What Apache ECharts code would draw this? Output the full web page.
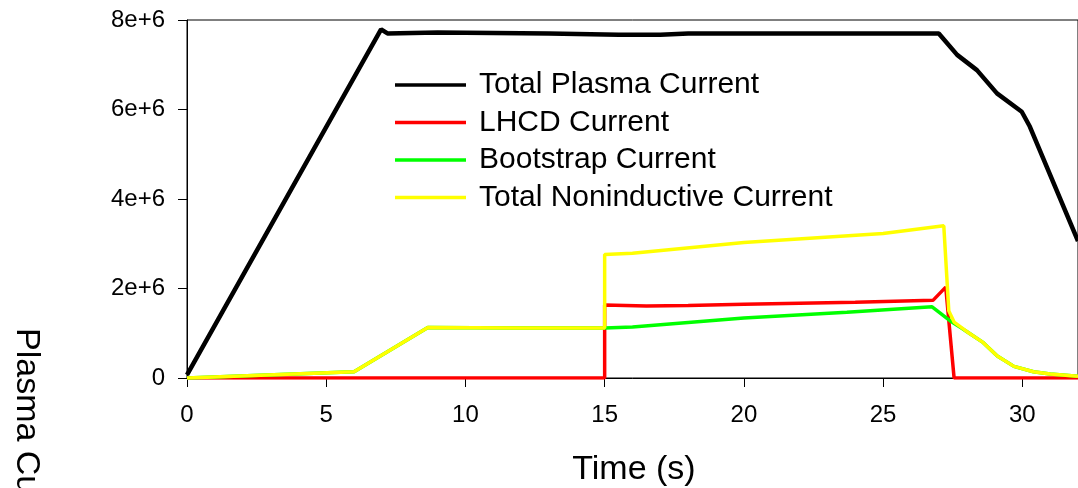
<!DOCTYPE html>
<html>
<head>
<meta charset="utf-8">
<script src="https://cdn.jsdelivr.net/npm/echarts@6/dist/echarts.min.js"></script>
<style>
  html, body { margin: 0; padding: 0; background: #fff; }
  #chart { width: 1078px; height: 488px; }
</style>
</head>
<body>
<div id="chart"></div>
<script>
// 数据：时间 (s) 与电流 (A)
var totalT = [0, 6.97, 7.2, 9, 13, 15.5, 17, 18, 27.0, 27.66, 28.37, 29.09, 29.98, 30.27, 32];
var totalI = [0.07e6, 7.79e6, 7.7e6, 7.72e6, 7.7e6, 7.67e6, 7.67e6, 7.7e6, 7.7e6, 7.22e6, 6.88e6, 6.36e6, 5.95e6, 5.62e6, 3.06e6];

var lhcdT = [0, 15.0, 15.0, 16.5, 18, 20, 22, 24, 26.8, 27.25, 27.55, 32];
var lhcdI = [0, 0, 1.63e6, 1.61e6, 1.62e6, 1.65e6, 1.67e6, 1.69e6, 1.74e6, 2.03e6, 0, 0];

var bootT = [0, 6.0, 8.65, 12, 15.0, 16, 20, 23.7, 26.76, 27.4, 27.8, 28.0, 28.6, 29.1, 29.7, 30.4, 31.0, 32];
var bootI = [0, 0.14e6, 1.13e6, 1.12e6, 1.12e6, 1.14e6, 1.34e6, 1.47e6, 1.59e6, 1.28e6, 1.12e6, 1.04e6, 0.79e6, 0.49e6, 0.26e6, 0.14e6, 0.09e6, 0.04e6];

var niT = [0, 6.0, 8.65, 12, 15.0, 15.0, 16, 20, 25, 27.18, 27.36, 27.55, 28.0, 28.6, 29.1, 29.7, 30.4, 31.0, 32];
var niI = [0, 0.14e6, 1.13e6, 1.12e6, 1.12e6, 2.76e6, 2.79e6, 3.03e6, 3.23e6, 3.40e6, 1.5e6, 1.25e6, 1.04e6, 0.79e6, 0.49e6, 0.26e6, 0.14e6, 0.09e6, 0.04e6];

var seriesNames = ['Total Plasma Current', 'LHCD Current', 'Bootstrap Current', 'Total Noninductive Current'];
var seriesColors = ['#000000', '#ff0000', '#00ff00', '#ffff00'];
var xTicks = { min: 0, max: 32, interval: 5 };
var yTicks = { min: 0, max: 8e6, interval: 2e6 };

var font = '"Liberation Sans", Arial, Helvetica, sans-serif';

function pairs (t, v) {
  return t.map(function (x, i) { return [x, v[i]]; });
}

var chart = echarts.init(document.getElementById('chart'));
var lineData = [pairs(totalT, totalI), pairs(lhcdT, lhcdI), pairs(bootT, bootI), pairs(niT, niI)];
var widths = [4.5, 3.5, 3.5, 3.5];

var option = {
  animation: false,
  backgroundColor: '#fff',
  grid: {
    left: 187, right: -3, top: 20, bottom: 110,
    show: true, borderColor: '#000', borderWidth: 1
  },
  legend: {
    orient: 'vertical',
    left: 395, top: 70, padding: 0,
    icon: 'rect',
    itemWidth: 71, itemHeight: 3.5, itemGap: 7.5,
    data: seriesNames,
    textStyle: { fontFamily: font, fontSize: 30, color: '#000', padding: [0, 0, 0, 8] }
  },
  xAxis: {
    type: 'value',
    min: xTicks.min, max: xTicks.max, interval: xTicks.interval,
    splitLine: { show: false },
    axisLine: { lineStyle: { color: '#000', width: 1 } },
    axisTick: { inside: false, length: 9, lineStyle: { color: '#000', width: 1 } },
    axisLabel: { color: '#000', fontFamily: font, fontSize: 24, margin: 25, showMaxLabel: false }
  },
  yAxis: {
    type: 'value',
    min: yTicks.min, max: yTicks.max, interval: yTicks.interval,
    splitLine: { show: false },
    axisLine: { show: true, lineStyle: { color: '#000', width: 1 } },
    axisTick: { show: true, inside: false, length: 9, lineStyle: { color: '#000', width: 1 } },
    axisLabel: {
      color: '#000', fontFamily: font, fontSize: 24, margin: 22,
      formatter: function (v) { return v === 0 ? '0' : (v / 1e6) + 'e+6'; }
    }
  },
  graphic: [
    {
      type: 'text', x: 634, y: 453,
      style: { text: 'Time (s)', font: '34px ' + font, fill: '#000', align: 'center', verticalAlign: 'top', textAlign: 'center', textVerticalAlign: 'top' }
    },
    {
      type: 'text', x: 9, y: 328, rotation: -Math.PI / 2,
      style: { text: 'Plasma Current (A)', font: '34px ' + font, fill: '#000', align: 'left', verticalAlign: 'bottom', textAlign: 'left', textVerticalAlign: 'bottom' }
    }
  ],
  series: seriesNames.map(function (name, i) {
    return {
      name: name,
      type: 'line',
      data: lineData[i],
      symbol: 'none',
      color: seriesColors[i],
      lineStyle: { color: seriesColors[i], width: widths[i] },
      z: 2 + i
    };
  })
};
chart.setOption(option);
</script>
</body>
</html>
